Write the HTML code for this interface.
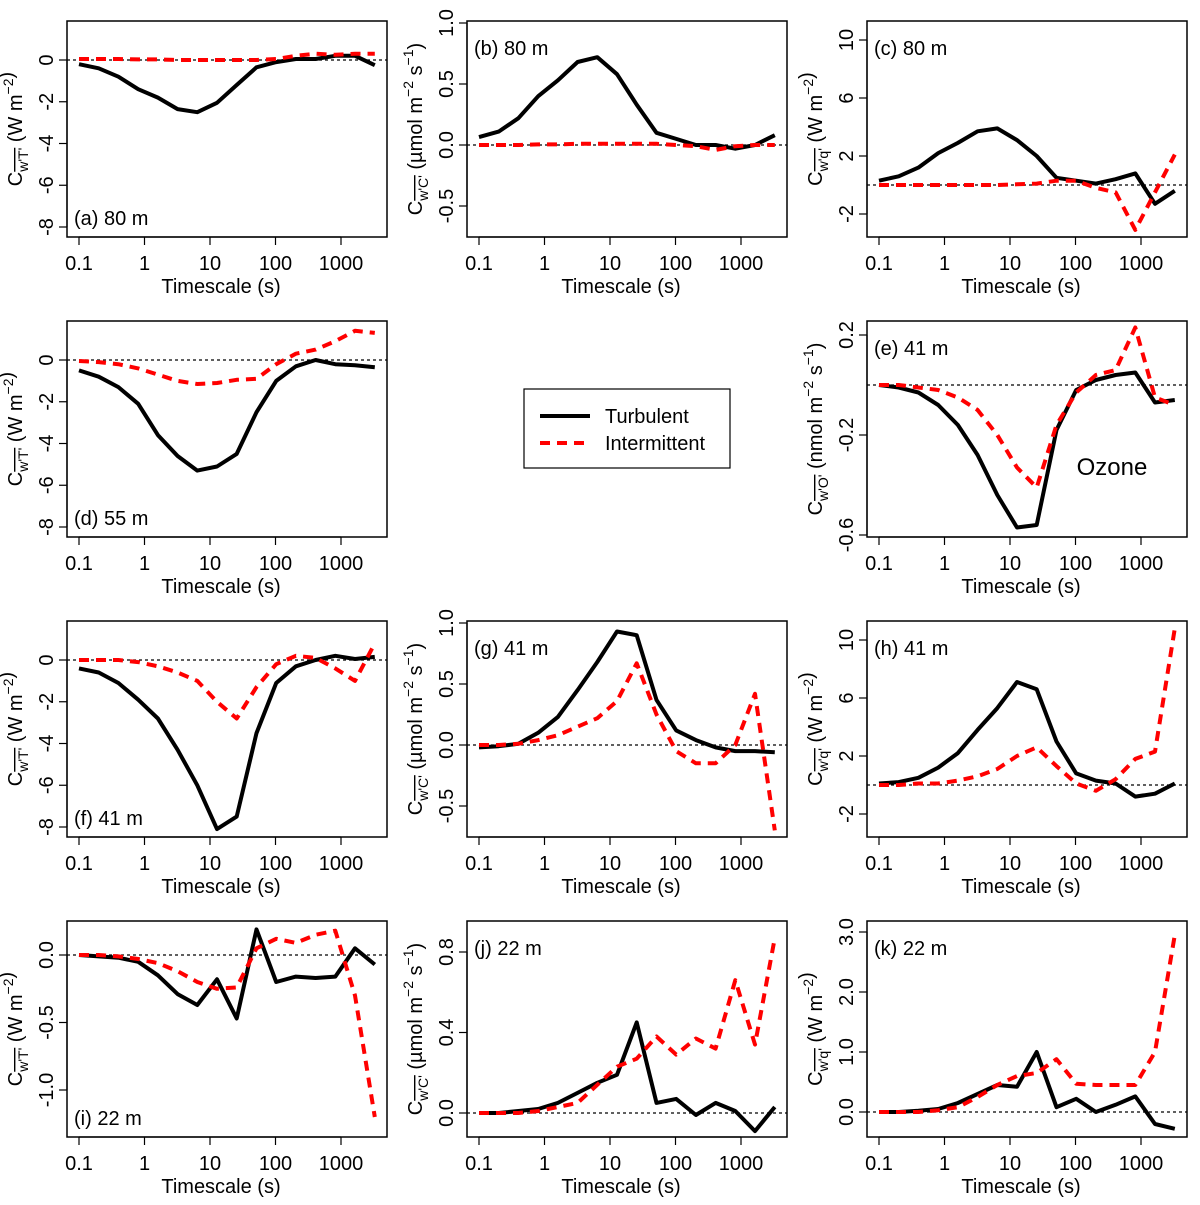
<!DOCTYPE html>
<html><head><meta charset="utf-8"><style>
html,body{margin:0;padding:0;background:#fff}
svg text{font-family:"Liberation Sans",sans-serif;fill:#000}
</style></head><body>
<svg id="chart" width="1200" height="1200" viewBox="0 0 1200 1200" xmlns="http://www.w3.org/2000/svg">
<rect width="1200" height="1200" fill="#fff"/>
<g id="legend">
<rect x="524" y="389" width="206" height="79" fill="none" stroke="#000" stroke-width="1.2"/>
<line x1="540" y1="416" x2="590" y2="416" stroke="#000" stroke-width="4"/>
<text x="605" y="423" font-size="20">Turbulent</text>
<line x1="540" y1="443" x2="590" y2="443" stroke="#f00" stroke-width="4" stroke-dasharray="10,7"/>
<text x="605" y="450" font-size="20">Intermittent</text>
</g>
<text x="1112" y="475" font-size="24" text-anchor="middle">Ozone</text>
</svg>
<script>
const timescales=[0.1,0.2,0.4,0.8,1.6,3.2,6.4,12.8,25.6,51.2,102.4,204.8,409.6,819.2,1638.4,3276.8];
const xTicks=[0.1,1,10,100,1000];
const xTickLabels=["0.1","1","10","100","1000"];
const turbA=[-0.2,-0.4,-0.8,-1.4,-1.8,-2.35,-2.5,-2.05,-1.2,-0.35,-0.1,0.05,0.05,0.2,0.2,-0.25];
const interA=[0.05,0.05,0.05,0.03,0.03,0,0,0,0,0,0.05,0.2,0.3,0.25,0.3,0.3];
const turbB=[0.065,0.11,0.22,0.4,0.53,0.68,0.72,0.58,0.33,0.1,0.05,0,0,-0.03,0,0.08];
const interB=[0,0,0,0.005,0.005,0.01,0.01,0.01,0.01,0.01,0,-0.01,-0.04,-0.01,0,0];
const turbC=[0.3,0.6,1.2,2.2,2.9,3.7,3.9,3.1,2.0,0.5,0.3,0.1,0.4,0.8,-1.3,-0.4];
const interC=[0,0,0,0,0,0,0,0.05,0.1,0.3,0.3,-0.2,-0.5,-3.1,-0.5,2.1];
const turbD=[-0.5,-0.8,-1.3,-2.1,-3.6,-4.6,-5.3,-5.1,-4.5,-2.5,-1.0,-0.3,0,-0.2,-0.25,-0.35];
const interD=[-0.05,-0.1,-0.2,-0.4,-0.7,-1.0,-1.15,-1.1,-0.95,-0.9,-0.2,0.3,0.5,0.9,1.4,1.3];
const turbE=[0,-0.01,-0.03,-0.08,-0.16,-0.28,-0.44,-0.57,-0.56,-0.18,-0.02,0.02,0.04,0.05,-0.07,-0.06];
const interE=[0,0,-0.01,-0.02,-0.05,-0.1,-0.2,-0.33,-0.41,-0.16,-0.03,0.04,0.06,0.23,-0.05,-0.08];
const turbF=[-0.4,-0.6,-1.1,-1.9,-2.8,-4.3,-6.0,-8.1,-7.5,-3.5,-1.1,-0.3,0,0.2,0.05,0.15];
const interF=[0,0,0,-0.1,-0.3,-0.6,-1.0,-2.0,-2.8,-1.3,-0.2,0.2,0.1,-0.4,-1.0,0.8];
const turbG=[-0.02,-0.01,0.01,0.1,0.23,0.45,0.68,0.93,0.9,0.37,0.12,0.04,-0.02,-0.05,-0.05,-0.06];
const interG=[0,0,0.01,0.04,0.08,0.15,0.22,0.36,0.67,0.25,-0.05,-0.15,-0.15,0,0.42,-0.7];
const turbH=[0.1,0.2,0.5,1.2,2.2,3.8,5.3,7.1,6.6,3.0,0.8,0.3,0.1,-0.8,-0.6,0.1];
const interH=[0,0,0.1,0.1,0.3,0.6,1.1,2.0,2.6,1.3,0.1,-0.4,0.4,1.8,2.3,10.8];
const turbI=[0,-0.01,-0.02,-0.05,-0.15,-0.29,-0.37,-0.18,-0.47,0.19,-0.2,-0.16,-0.17,-0.16,0.05,-0.07];
const interI=[0,0,-0.01,-0.03,-0.06,-0.12,-0.2,-0.25,-0.24,0.05,0.12,0.09,0.15,0.18,-0.3,-1.2];
const turbJ=[0,0,0.01,0.02,0.05,0.1,0.15,0.19,0.45,0.05,0.07,-0.01,0.05,0.01,-0.09,0.03];
const interJ=[0,0,0,0.01,0.03,0.05,0.14,0.23,0.27,0.38,0.29,0.37,0.32,0.66,0.34,0.87];
const turbK=[0,0,0.02,0.05,0.15,0.3,0.45,0.42,1.0,0.08,0.22,0,0.12,0.26,-0.2,-0.28];
const interK=[0,0,0,0.03,0.08,0.25,0.45,0.6,0.65,0.88,0.47,0.45,0.45,0.45,1.0,2.95];

const NS="http://www.w3.org/2000/svg";
const svg=document.getElementById('chart');
function mk(tag,attrs,parent){const e=document.createElementNS(NS,tag);for(const k in attrs)e.setAttribute(k,attrs[k]);(parent||svg).appendChild(e);return e;}

const units={T:["T","W m","−2",""],C:["C","µmol m","−2"," s"],q:["q","W m","−2",""],O:["O","nmol m","−2"," s"]};
const panels=[
 {id:"a",col:0,row:0,label:"(a) 80 m",lblBottom:true,v:"T",ticks:[0,-2,-4,-6,-8],tl:["0","-2","-4","-6","-8"],c0:[0,39],c1:[-8,206],t:turbA,i:interA},
 {id:"b",col:1,row:0,label:"(b) 80 m",v:"C",ticks:[-0.5,0,0.5,1.0],tl:["-0.5","0.0","0.5","1.0"],c0:[0,124],c1:[1,2],t:turbB,i:interB},
 {id:"c",col:2,row:0,label:"(c) 80 m",v:"q",ticks:[-2,2,6,10],tl:["-2","2","6","10"],c0:[0,164],c1:[10,19],t:turbC,i:interC},
 {id:"d",col:0,row:1,label:"(d) 55 m",lblBottom:true,v:"T",ticks:[0,-2,-4,-6,-8],tl:["0","-2","-4","-6","-8"],c0:[0,39],c1:[-8,206],t:turbD,i:interD},
 {id:"e",col:2,row:1,label:"(e) 41 m",v:"O",ticks:[-0.6,-0.2,0.2],tl:["-0.6","-0.2","0.2"],c0:[0,64],c1:[0.2,14],t:turbE,i:interE},
 {id:"f",col:0,row:2,label:"(f)  41 m",lblBottom:true,v:"T",ticks:[0,-2,-4,-6,-8],tl:["0","-2","-4","-6","-8"],c0:[0,39],c1:[-8,206],t:turbF,i:interF},
 {id:"g",col:1,row:2,label:"(g) 41 m",v:"C",ticks:[-0.5,0,0.5,1.0],tl:["-0.5","0.0","0.5","1.0"],c0:[0,124],c1:[1,2],t:turbG,i:interG},
 {id:"h",col:2,row:2,label:"(h) 41 m",v:"q",ticks:[-2,2,6,10],tl:["-2","2","6","10"],c0:[0,164],c1:[10,19],t:turbH,i:interH},
 {id:"i",col:0,row:3,label:"(i)  22 m",lblBottom:true,v:"T",ticks:[-1,-0.5,0],tl:["-1.0","-0.5","0.0"],c0:[0,34],c1:[-1,169],t:turbI,i:interI},
 {id:"j",col:1,row:3,label:"(j) 22 m",v:"C",ticks:[0,0.4,0.8],tl:["0.0","0.4","0.8"],c0:[0,192],c1:[0.8,31],t:turbJ,i:interJ},
 {id:"k",col:2,row:3,label:"(k) 22 m",v:"q",ticks:[0,1,2,3],tl:["0.0","1.0","2.0","3.0"],c0:[0,191],c1:[3,11],t:turbK,i:interK}
];

panels.forEach(p=>{
  const ox=p.col*400, oy=p.row*300;
  const L=67+ox,R=387+ox,T=21+oy,B=237+oy;
  const g=mk('g',{});
  
  
  const xs=v=>L+12+(Math.log10(v)+1)*65.5;
  const y0=T+p.c0[1], y1=T+p.c1[1];
  const ys=v=>y0+(v-p.c0[0])*(y1-y0)/(p.c1[0]-p.c0[0]);
  const z=mk('line',{x1:L,x2:R,y1:ys(0),y2:ys(0),stroke:'#000','stroke-width':1.2,'stroke-dasharray':'3,3'},g);
  
  
  const mkPath=(arr,color,dash,name)=>{
    const d=arr.map((v,k)=>(k?'L':'M')+xs(timescales[k]).toFixed(1)+','+ys(v).toFixed(1)).join(' ');
    const el=mk('path',{d:d,fill:'none',stroke:color,'stroke-width':4,'stroke-linejoin':'round'},g);
    if(dash)el.setAttribute('stroke-dasharray',dash);
    
    
  };
  mkPath(p.t,'#000',null,'turbulent-line');
  mkPath(p.i,'#f00','10,7','intermittent-line');
  const bx=mk('rect',{x:L,y:T,width:R-L,height:B-T,fill:'none',stroke:'#000','stroke-width':1.5},g);
  
  
  mk('line',{x1:xs(0.1),x2:xs(1000),y1:B,y2:B,stroke:'#000','stroke-width':1.2},g);
  xTicks.forEach((t,k)=>{
    mk('line',{x1:xs(t),x2:xs(t),y1:B,y2:B+8,stroke:'#000','stroke-width':1.2},g);
    const tx=mk('text',{x:xs(t),y:B+33,'font-size':20,'text-anchor':'middle'},g);
    tx.textContent=xTickLabels[k];
    
    
  });
  const xt=mk('text',{x:(L+R)/2-6,y:B+56,'font-size':20,'text-anchor':'middle'},g);
  xt.textContent='Timescale (s)';
  
  
  const yv=p.ticks.map(ys);
  mk('line',{x1:L,x2:L,y1:Math.min(...yv),y2:Math.max(...yv),stroke:'#000','stroke-width':1.2},g);
  p.ticks.forEach((t,k)=>{
    const y=ys(t);
    mk('line',{x1:L-8,x2:L,y1:y,y2:y,stroke:'#000','stroke-width':1.2},g);
    const tx=mk('text',{x:L-14,y:y,'font-size':20,'text-anchor':'middle',transform:`rotate(-90 ${L-14} ${y})`},g);
    tx.textContent=p.tl[k];
    
    
  });
  const u=units[p.v];
  const cy=(T+B)/2, cx=L-45;
  const yt=mk('text',{x:cx,y:cy,'font-size':20,'text-anchor':'middle',transform:`rotate(-90 ${cx} ${cy})`},g);
  
  
  let html=`C<tspan font-size="14" dy="6" style="text-decoration:overline">w'${u[0]}'</tspan><tspan dy="-6"> (${u[1]}</tspan><tspan font-size="14" dy="-9">−2</tspan><tspan dy="9">${u[3]}</tspan>`;
  if(u[3])html+=`<tspan font-size="14" dy="-9">−1</tspan><tspan dy="9">)</tspan>`;else html+=`<tspan>)</tspan>`;
  yt.innerHTML=html;
  const pl=mk('text',{x:L+7,y:p.lblBottom?B-12:T+34,'font-size':20},g);
  pl.textContent=p.label;
  
  
});
</script>
</body></html>
